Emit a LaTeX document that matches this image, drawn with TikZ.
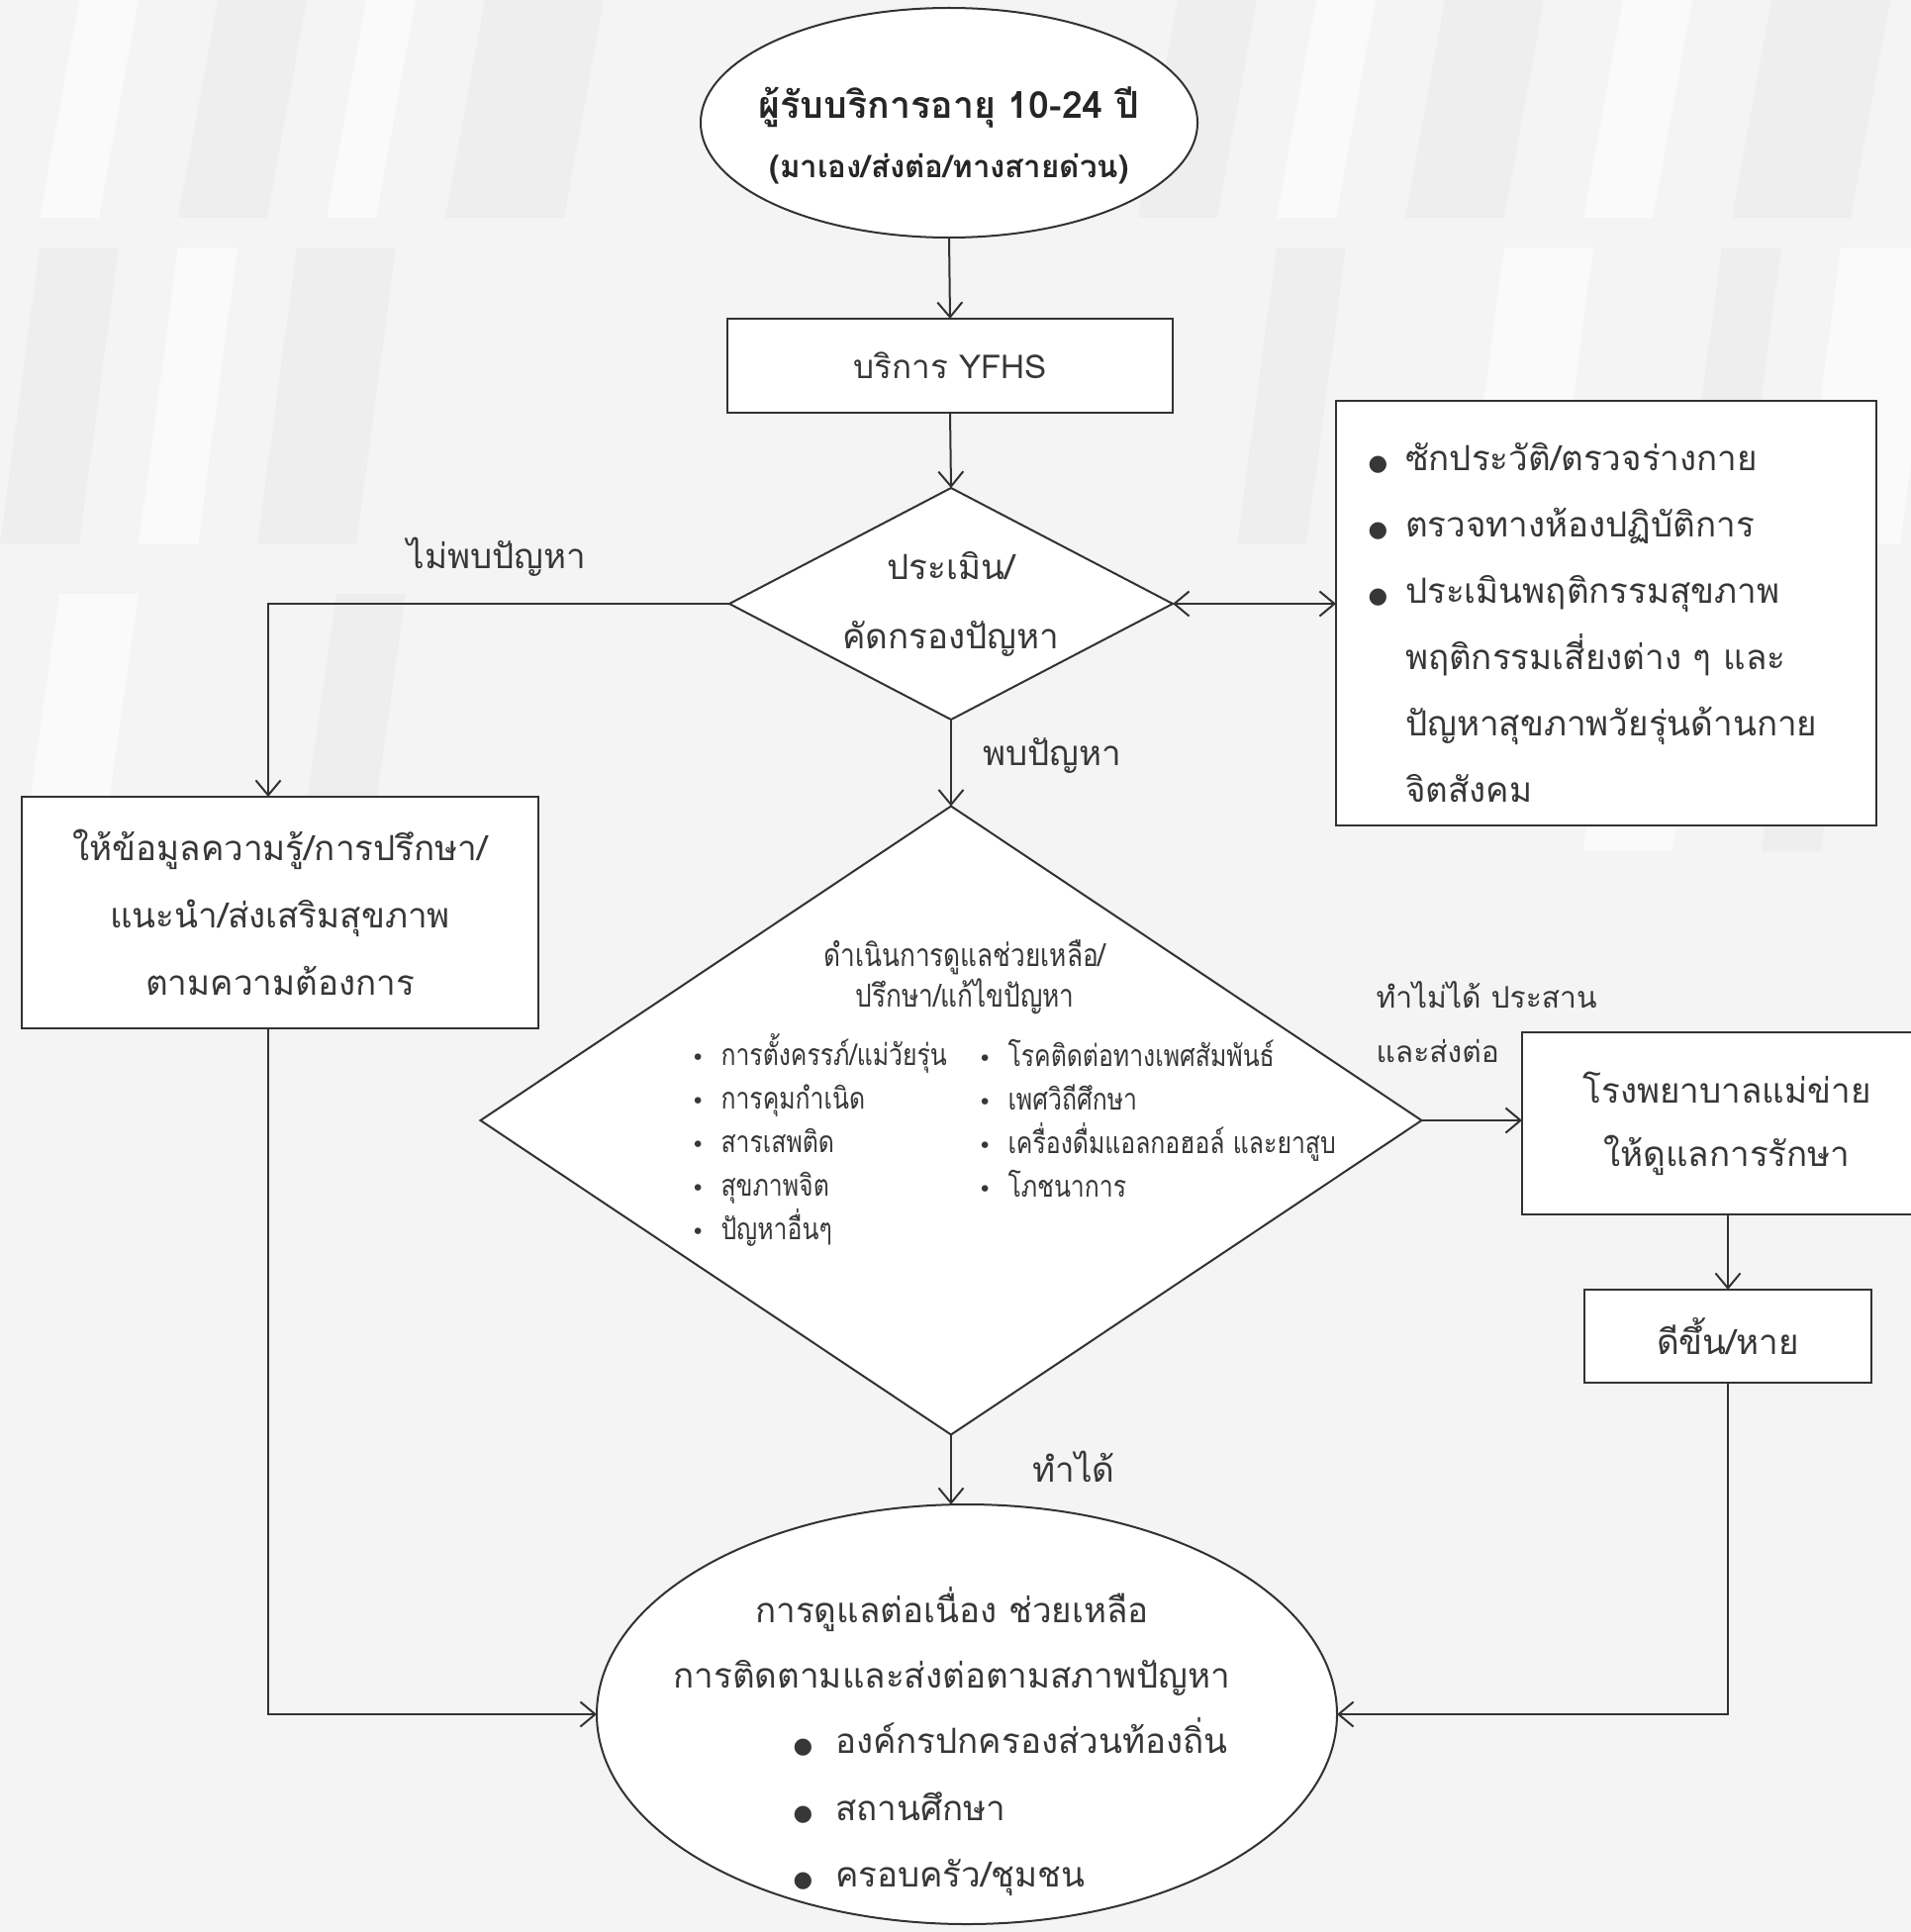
\documentclass[tikz,border=0pt]{standalone}
\usepackage{fontspec}
\setmainfont[Script=Thai]{Loma}
\newfontfamily\thn[Script=Thai,FakeStretch=0.82]{Loma}
\newfontfamily\dvs{DejaVu Sans}
\usetikzlibrary{shapes.geometric,arrows.meta}
\definecolor{bgc}{RGB}{244,244,244}
\definecolor{stripedark}{RGB}{238,238,238}
\definecolor{stripelight}{RGB}{250,250,250}
\definecolor{linec}{RGB}{50,50,50}
\definecolor{txc}{RGB}{55,55,55}
\newcommand{\bul}{{\dvs\fontsize{9}{9}\selectfont ●}}
\newcommand{\sbul}{{\dvs\fontsize{9}{9}\selectfont •}}
\begin{document}
\begin{tikzpicture}[x=0.4pt,y=-0.4pt,
  every node/.style={text=txc},
  mainf/.style={font=\fontsize{14}{27}\selectfont},
  boxc/.style={draw=linec,line width=0.8pt,fill=white,inner sep=0pt,outer sep=0pt,align=center,mainf},
  ellc/.style={ellipse,draw=linec,line width=0.8pt,fill=white,inner sep=0pt,outer sep=0pt},
  diac/.style={diamond,draw=linec,line width=0.8pt,fill=white,inner sep=0pt,outer sep=0pt},
  conn/.style={draw=linec,line width=0.8pt,-{Straight Barb[length=6pt,width=10pt]}},
  lbl/.style={mainf,inner sep=0pt}
]
% background
\fill[bgc] (0,0) rectangle (1931,1952);
\useasboundingbox (0,0) rectangle (1931,1952);
\foreach \x/\y/\w/\h/\c in {
  40/0/60/220/stripelight, 180/0/90/220/stripedark, 330/0/50/220/stripelight, 450/0/120/220/stripedark,
  1150/0/80/220/stripedark, 1290/0/60/220/stripelight, 1420/0/100/220/stripedark, 1600/0/70/220/stripelight, 1750/0/120/220/stripedark,
  0/250/80/300/stripedark, 140/250/60/300/stripelight, 260/250/100/300/stripedark, 1250/250/70/300/stripedark,
  1480/250/90/300/stripelight, 1700/250/60/300/stripedark, 1820/250/100/300/stripelight,
  20/600/80/280/stripelight, 300/600/70/280/stripedark, 1600/560/90/300/stripelight, 1780/560/60/300/stripedark}
  { \fill[\c] (\x,\y+\h) -- (\x+\w,\y+\h) -- (\x+\w+40,\y) -- (\x+40,\y) -- cycle; }

% top ellipse
\node[ellc,minimum width=200.8pt,minimum height=92.8pt] (E1) at (959,124) {};
\node[text=black!85,align=center,inner sep=0pt,font=\bfseries\fontsize{15}{24}\selectfont] (E1t) at (959,137)
  {ผู้รับบริการอายุ 10-24 ปี\\{\fontsize{12.5}{24}\selectfont (มาเอง/ส่งต่อ/ทางสายด่วน)}};

% YFHS box
\node[boxc,minimum width=180pt,minimum height=38pt,font=\fontsize{13.3}{27}\selectfont] (B1) at (960,369.5) {บริการ YFHS};

% first diamond
\node[diac,minimum width=179.2pt,minimum height=93.6pt] (D1) at (961,610) {};
\node[align=center,inner sep=0pt,font=\fontsize{14}{28}\selectfont] (D1t) at (961,610) {ประเมิน/\\คัดกรองปัญหา};

% left box
\node[boxc,minimum width=208.8pt,minimum height=93.6pt,font=\fontsize{14}{27.2}\selectfont] (L) at (283,922)
  {\raisebox{-4pt}{}ให้ข้อมูลความรู้/การปรึกษา/\\แนะนำ/ส่งเสริมสุขภาพ\\ตามความต้องการ};

% right box
\node[boxc,minimum width=218.4pt,minimum height=171.6pt] (R) at (1623,619.5) {};
\node[anchor=west,align=left,inner sep=0pt,font=\fontsize{14}{26.8}\selectfont] (Rt) at (1382,629)
  {\makebox[15pt][l]{\bul}ซักประวัติ/ตรวจร่างกาย\\
   \makebox[15pt][l]{\bul}ตรวจทางห้องปฏิบัติการ\\
   \makebox[15pt][l]{\bul}ประเมินพฤติกรรมสุขภาพ\\
   \makebox[15pt][l]{}พฤติกรรมเสี่ยงต่าง ๆ และ\\
   \makebox[15pt][l]{}ปัญหาสุขภาพวัยรุ่นด้านกาย\\
   \makebox[15pt][l]{}จิตสังคม};

% big diamond
\node[diac,minimum width=380.4pt,minimum height=254pt] (D2) at (961,1132) {};
\node[align=center,inner sep=0pt,font=\thn\fontsize{12.8}{16.4}\selectfont] (D2t) at (975,987)
  {ดำเนินการดูแลช่วยเหลือ/\\ปรึกษา/แก้ไขปัญหา};
\node[anchor=west,align=left,inner sep=0pt,font=\thn\fontsize{12.1}{17.6}\selectfont] (D2l) at (698,1152)
  {\makebox[12pt][l]{\sbul}การตั้งครรภ์/แม่วัยรุ่น\\
   \makebox[12pt][l]{\sbul}การคุมกำเนิด\\
   \makebox[12pt][l]{\sbul}สารเสพติด\\
   \makebox[12pt][l]{\sbul}สุขภาพจิต\\
   \makebox[12pt][l]{\sbul}ปัญหาอื่นๆ};
\node[anchor=west,align=left,inner sep=0pt,font=\thn\fontsize{12.1}{17.6}\selectfont] (D2r) at (988,1130)
  {\makebox[12pt][l]{\sbul}โรคติดต่อทางเพศสัมพันธ์\\
   \makebox[12pt][l]{\sbul}เพศวิถีศึกษา\\
   \makebox[12pt][l]{\sbul}เครื่องดื่มแอลกอฮอล์ และยาสูบ\\
   \makebox[12pt][l]{\sbul}โภชนาการ};

% hospital box and result box
\node[boxc,minimum width=165.6pt,minimum height=73.6pt,font=\fontsize{14}{25.6}\selectfont] (H) at (1745,1135)
  {โรงพยาบาลแม่ข่าย\\ให้ดูแลการรักษา};
\node[boxc,minimum width=116pt,minimum height=37.6pt] (G) at (1746,1350) {ดีขึ้น/หาย};

% bottom ellipse
\node[ellc,minimum width=299.2pt,minimum height=169.6pt] (E2) at (977,1732) {};
\node[align=center,inner sep=0pt,font=\fontsize{14}{26.4}\selectfont] (E2t) at (962,1658)
  {การดูแลต่อเนื่อง ช่วยเหลือ\\การติดตามและส่งต่อตามสภาพปัญหา};
\node[anchor=west,align=left,inner sep=0pt,font=\fontsize{14}{27}\selectfont] (E2l) at (801,1826)
  {\makebox[17pt][l]{\bul}องค์กรปกครองส่วนท้องถิ่น\\
   \makebox[17pt][l]{\bul}สถานศึกษา\\
   \makebox[17pt][l]{\bul}ครอบครัว/ชุมชน};

% labels
\node[lbl] (lno) at (502,563) {ไม่พบปัญหา};
\node[lbl,anchor=west] (lyes) at (993,763) {พบปัญหา};
\node[lbl,anchor=west,font=\fontsize{12}{20}\selectfont] (lcant1) at (1390,1005) {ทำไม่ได้ ประสาน};
\node[lbl,anchor=west,font=\fontsize{12}{20}\selectfont] (lcant2) at (1390,1062) {และส่งต่อ};
\node[lbl,anchor=west] (lcan) at (1043,1482) {ทำได้};

% connectors
\draw[conn] (E1.south) -- (B1.north);
\draw[conn] (B1.south) -- (D1.north);
\draw[conn] (D1.west) -| ([xshift=-4.8pt]L.north);
\draw[conn,{Straight Barb[length=6pt,width=10pt]}-{Straight Barb[length=6pt,width=10pt]}] (D1.east) -- (D1.east -| R.west);
\draw[conn] (D1.south) -- (D2.north);
\draw[conn] (D2.east) -- (D2.east -| H.west);
\draw[conn] (H.south -| G.north) -- (G.north);
\draw[conn] (G.south) |- (E2.east);
\draw[conn] ([xshift=-4.8pt]L.south) |- (E2.west);
\draw[conn] (D2.south) -- (D2.south |- E2.north);
\end{tikzpicture}
\end{document}
